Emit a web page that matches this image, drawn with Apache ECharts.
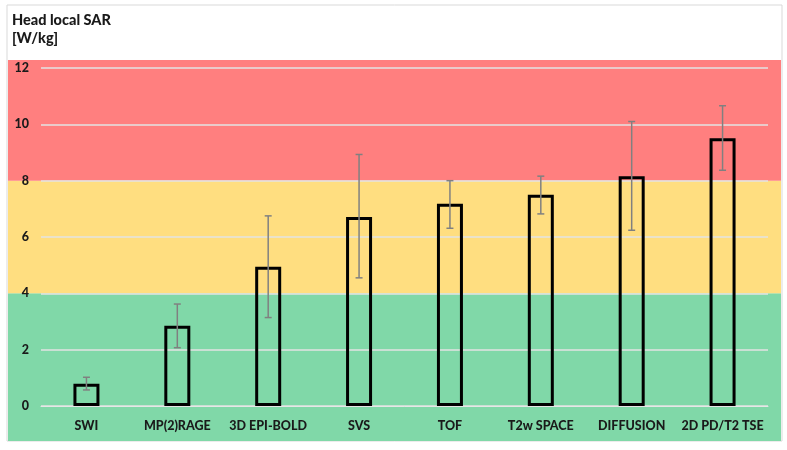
<!DOCTYPE html>
<html>
<head>
<meta charset="utf-8">
<script src="https://cdn.jsdelivr.net/npm/echarts@6/dist/echarts.min.js"></script>
<style>html,body{margin:0;padding:0;background:#fff}#c{width:787px;height:450px}</style>
</head>
<body>
<div id="c"></div>
<script>
const categories = ['SWI', 'MP(2)RAGE', '3D EPI-BOLD', 'SVS', 'TOF', 'T2w SPACE', 'DIFFUSION', '2D PD/T2 TSE'];
const sarMean = [0.79, 2.85, 4.94, 6.71, 7.18, 7.50, 8.16, 9.51];
const sarLow  = [0.57, 2.07, 3.14, 4.55, 6.31, 6.82, 6.24, 8.37];
const sarHigh = [1.02, 3.62, 6.75, 8.93, 8.00, 8.16, 10.10, 10.66];
const yTicks = [0, 2, 4, 6, 8, 10, 12];
const riskThresholds = [4, 8];
const title = 'Head local SAR\n[W/kg]';

const FONT = 'Lato';
const WEIGHT = 900;
const bandMin = -1.243, bandMax = 12.284;
const bandColors = ['#80D8A8', '#FFDE80', '#FF7F7F'];
const bandEdges = [bandMin].concat(riskThresholds, [bandMax]);
const bandData = [];
for (let i = 0; i < bandEdges.length - 1; i++) bandData.push([bandEdges[i], bandEdges[i + 1], i]);

const chart = echarts.init(document.getElementById('c'), null, {renderer: 'canvas'});
chart.setOption({
  animation: false,
  backgroundColor: '#fff',
  title: {
    text: title, left: 12, top: 11, padding: 0,
    textStyle: {fontFamily: FONT, fontSize: 14.5, fontWeight: WEIGHT, color: '#1a1a1a', lineHeight: 18}
  },
  grid: [
    {left: 41, right: 19, top: 68, bottom: 44},
    {left: 8, right: 6, top: 60, bottom: 9},
    {left: 7, right: 5, top: 5, bottom: 9, show: true, borderColor: '#d9d9d9', borderWidth: 1, backgroundColor: 'transparent'}
  ],
  xAxis: [
    {type: 'category', gridIndex: 0, data: categories, z: 3,
     axisLine: {show: true, lineStyle: {color: '#e6e6e6', width: 1}}, axisTick: {show: false},
     axisLabel: {fontFamily: FONT, fontSize: 12.5, fontWeight: WEIGHT, color: '#1a1a1a', margin: 13, interval: 0}},
    {type: 'value', gridIndex: 1, min: 0, max: 1, show: false},
    {type: 'value', gridIndex: 2, min: 0, max: 1, show: false}
  ],
  yAxis: [
    {type: 'value', gridIndex: 0, min: 0, max: 12, interval: 2, z: 3,
     axisLine: {show: false}, axisTick: {show: false},
     splitLine: {show: true, lineStyle: {color: '#e3e3e3', width: 1.5}},
     axisLabel: {fontFamily: FONT, fontSize: 12.5, fontWeight: WEIGHT, color: '#1a1a1a', margin: 12,
       formatter: v => yTicks.indexOf(v) >= 0 ? String(v) : ''}},
    {type: 'value', gridIndex: 1, min: bandMin, max: bandMax, show: false},
    {type: 'value', gridIndex: 2, min: 0, max: 1, show: false}
  ],
  series: [
    {
      type: 'custom', xAxisIndex: 1, yAxisIndex: 1, z: 1, silent: true,
      data: bandData,
      renderItem: function (params, api) {
        const p1 = api.coord([0, api.value(1)]);
        const p2 = api.coord([1, api.value(0)]);
        return {type: 'rect', shape: {x: p1[0], y: p1[1], width: p2[0] - p1[0], height: p2[1] - p1[1]},
                style: {fill: bandColors[api.value(2)]}};
      }
    },
    {
      type: 'bar', xAxisIndex: 0, yAxisIndex: 0, z: 4,
      data: sarMean, barWidth: 26,
      itemStyle: {color: 'rgba(0,0,0,0)', borderColor: '#000', borderWidth: 3}
    },
    {
      type: 'custom', xAxisIndex: 0, yAxisIndex: 0, z: 5, silent: true,
      data: categories.map((c, i) => [i, sarLow[i], sarHigh[i]]),
      renderItem: function (params, api) {
        const lo = api.coord([api.value(0), api.value(1)]);
        const hi = api.coord([api.value(0), api.value(2)]);
        const hw = 3.5;
        const st = {stroke: '#808080', lineWidth: 1.5};
        return {type: 'group', children: [
          {type: 'line', shape: {x1: lo[0], y1: lo[1], x2: hi[0], y2: hi[1]}, style: st},
          {type: 'line', shape: {x1: lo[0] - hw, y1: lo[1], x2: lo[0] + hw, y2: lo[1]}, style: st},
          {type: 'line', shape: {x1: hi[0] - hw, y1: hi[1], x2: hi[0] + hw, y2: hi[1]}, style: st}
        ]};
      }
    }
  ]
});
</script>
</body>
</html>
